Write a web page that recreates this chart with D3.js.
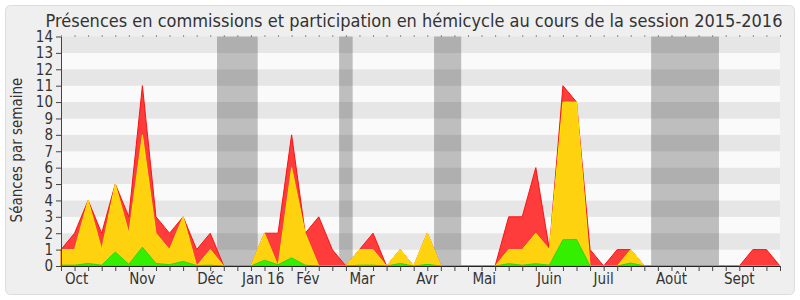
<!DOCTYPE html>
<html>
<head>
<meta charset="utf-8">
<script src="https://cdn.jsdelivr.net/npm/d3@7/dist/d3.min.js"></script>
<style>
  body { margin: 0; background: #fff; }
  svg text { font-family: "DejaVu Sans Condensed", "DejaVu Sans", sans-serif; font-stretch: condensed; fill: #333; }
</style>
</head>
<body>
<script>
// Taille du SVG
const width = 800;
const height = 300;

// Données : séances par semaine, session 2015-2016 (54 semaines)
const semaines = d3.range(54);
const presences = [1, 2, 4, 2, 5, 3, 11, 3, 2, 3, 1, 2, 0, 0, 0, 2, 2, 8, 2, 3,
  1, 0, 1, 2, 0, 1, 0, 2, 0, 0, 0, 0, 0, 3, 3, 6, 1, 11, 10, 1,
  0, 1, 1, 0, 0, 0, 0, 0, 0, 0, 0, 1, 1, 0];
const commissions = [1, 1, 4, 1, 5, 2, 8, 2, 1, 3, 0, 1, 0, 0, 0, 2, 0, 6, 2, 0,
  0, 0, 1, 1, 0, 1, 0, 2, 0, 0, 0, 0, 0, 1, 1, 2, 1, 10, 10, 0,
  0, 0, 1, 0, 0, 0, 0, 0, 0, 0, 0, 0, 0, 0];
const interventions = [0.05, 0.05, 0.15, 0.05, 0.85, 0.1, 1.15, 0.15, 0.08, 0.28, 0.03, 0.05, 0, 0, 0, 0.35, 0.08, 0.5, 0.05, 0,
  0, 0, 0.05, 0.05, 0, 0.15, 0, 0.1, 0, 0, 0, 0, 0, 0.14, 0.05, 0.14, 0.05, 1.6, 1.62, 0,
  0, 0, 0.18, 0, 0, 0, 0, 0, 0, 0, 0, 0, 0, 0];

// Mois (position en semaines) et vacances parlementaires
const moisLabels = ["Oct", "Nov", "Déc", "Jan 16", "Fév", "Mar", "Avr", "Mai", "Juin", "Juil", "Août", "Sept"];
const moisPositions = [1.15, 6, 11, 14.9, 18.2, 22.2, 27, 31.2, 36, 40, 45, 50];
const vacances = [[11.5, 14.5], [20.5, 21.5], [27.5, 29.5], [43.5, 48.5]];
const yTicks = d3.range(15);

const svg = d3.select("body")
  .append("svg")
  .attr("width", width)
  .attr("height", height);

// Fond arrondi
svg.append("rect")
  .attr("x", 5.5).attr("y", 5.5)
  .attr("width", 789).attr("height", 289)
  .attr("rx", 5)
  .attr("fill", "#efefef")
  .attr("stroke", "#dddddd");

const x = d3.scaleLinear().domain([0, 53]).range([61, 780]);
const y = d3.scaleLinear().domain([0, 14]).range([266, 36.5]);

// Bandes horizontales
svg.append("g").selectAll("rect")
  .data(d3.range(14))
  .enter()
  .append("rect")
  .attr("x", x(0))
  .attr("width", x(53) - x(0))
  .attr("y", d => y(d + 1))
  .attr("height", d => y(d) - y(d + 1))
  .attr("fill", d => d % 2 ? "#e6e6e6" : "#fafafa");

// Vacances
svg.append("g").selectAll("rect")
  .data(vacances)
  .enter()
  .append("rect")
  .attr("x", d => x(d[0]))
  .attr("width", d => x(d[1]) - x(d[0]))
  .attr("y", y(14))
  .attr("height", y(0) - y(14))
  .attr("fill", "rgba(0,0,0,0.24)");

// Aires
const area = d3.area()
  .x((d, i) => x(semaines[i]))
  .y0(y(0))
  .y1(d => y(d));

const series = [
  { values: presences, fill: "#ff3c3c", stroke: "#ff1010" },
  { values: commissions, fill: "#ffd20f", stroke: "#ffe600" },
  { values: interventions, fill: "#35ef00", stroke: "#2ad600" }
];

svg.append("g").selectAll("path")
  .data(series)
  .enter()
  .append("path")
  .attr("d", d => area(d.values))
  .attr("fill", d => d.fill)
  .attr("stroke", d => d.stroke)
  .attr("stroke-width", 1);

// Axe Y
const yAxis = svg.append("g")
  .attr("transform", `translate(${x(0)},0)`)
  .call(d3.axisLeft(y).tickValues(yTicks).tickFormat(d3.format("d")).tickSize(5).tickSizeOuter(0).tickPadding(3));
yAxis.selectAll("text").attr("font-size", 15).attr("font-family", null);
yAxis.selectAll("line, path").attr("stroke", "#444");

// Axe X (une graduation par semaine)
const xAxis = svg.append("g")
  .attr("transform", `translate(0,${y(0)})`)
  .call(d3.axisBottom(x).tickValues(semaines).tickFormat("").tickSize(5).tickSizeOuter(0));
xAxis.selectAll("line").attr("stroke", "#444");
xAxis.select("path").attr("stroke", "#222");

// Petites graduations en haut
svg.append("g")
  .attr("transform", `translate(0,${y(14)})`)
  .call(d3.axisTop(x).tickValues(semaines).tickFormat("").tickSize(1).tickSizeOuter(0))
  .call(g => g.select("path").remove())
  .selectAll("line").attr("stroke", "#333");

// Mois
svg.append("g").selectAll("text")
  .data(moisLabels)
  .enter()
  .append("text")
  .attr("x", (d, i) => x(moisPositions[i]))
  .attr("y", 284)
  .attr("text-anchor", "middle")
  .attr("font-size", 15)
  .text(d => d);

// Titre
svg.append("text")
  .attr("x", 414)
  .attr("y", 27)
  .attr("text-anchor", "middle")
  .attr("font-size", 18)
  .text("Présences en commissions et participation en hémicycle au cours de la session 2015-2016");

// Libellé axe Y
svg.append("text")
  .attr("transform", "translate(22,150) rotate(-90)")
  .attr("text-anchor", "middle")
  .attr("font-size", 15)
  .text("Séances par semaine");
</script>
</body>
</html>
